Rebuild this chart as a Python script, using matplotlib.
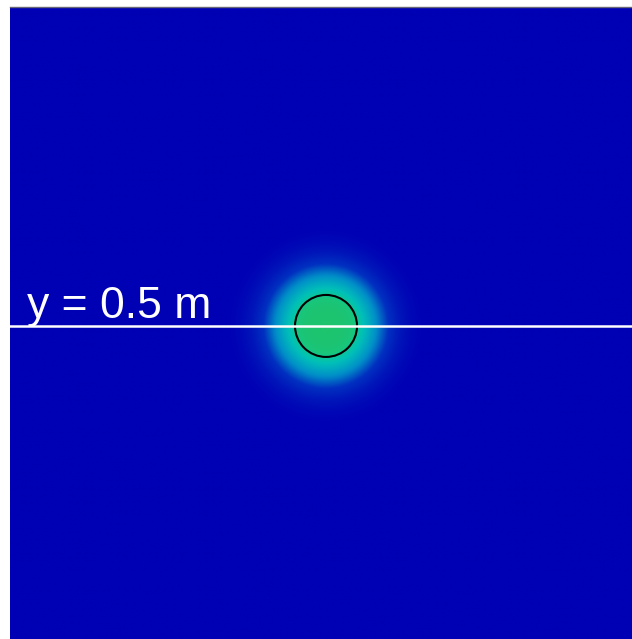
import numpy as np
import matplotlib
matplotlib.use('Agg')
import matplotlib.pyplot as plt
from matplotlib.colors import LinearSegmentedColormap

# radial profile of the field around the droplet
profile_r = [0.0, 0.030, 0.045, 0.050, 0.060, 0.070, 0.085, 0.100, 0.120, 0.140, 0.160]
profile_v = [1.00, 0.99, 0.97, 0.90, 0.82, 0.72, 0.55, 0.36, 0.16, 0.05, 0.0]

center = (0.5, 0.5)
radius = 0.05
line_y = 0.5
label = 'y = 0.5 m'

cmap_pos = [0.0, 0.35, 0.6, 0.82, 0.92, 1.0]
cmap_cols = ['#0000b4', '#0030c0', '#0090c8', '#00c0b8', '#10c890', '#1ec46e']

cmap = LinearSegmentedColormap.from_list('field', list(zip(cmap_pos, cmap_cols)))

xlim = (-0.0097, 0.9935)
ylim = (-0.005, 1.0145)

fig = plt.figure(figsize=(6.32, 6.39), dpi=100)
ax = fig.add_axes([10 / 632, 0, 622 / 632, 632 / 639])

xs = np.linspace(xlim[0], xlim[1], 700)
ys = np.linspace(ylim[0], ylim[1], 700)
X, Y = np.meshgrid(xs, ys)
R = np.hypot(X - center[0], Y - center[1])
Z = np.interp(R, profile_r, profile_v)

ax.imshow(Z, cmap=cmap, vmin=0, vmax=1, origin='lower',
          extent=(xlim[0], xlim[1], ylim[0], ylim[1]), interpolation='bilinear')

circ = plt.Circle(center, radius, fill=False, color='black', lw=1.5)
ax.add_patch(circ)
ax.axhline(line_y, color='white', lw=1.8)
ax.text(0.017, line_y + 0.013, label, color='white', fontsize=32,
        family='Liberation Sans', ha='left', va='baseline')

ax.set_xlim(xlim)
ax.set_ylim(ylim)
ax.set_aspect('auto')
ax.set_xticks([])
ax.set_yticks([])
for s in ['left', 'right', 'bottom']:
    ax.spines[s].set_visible(False)
ax.spines['top'].set_color('#666677')
ax.spines['top'].set_linewidth(1.0)

fig.savefig('out.png', dpi=100)
